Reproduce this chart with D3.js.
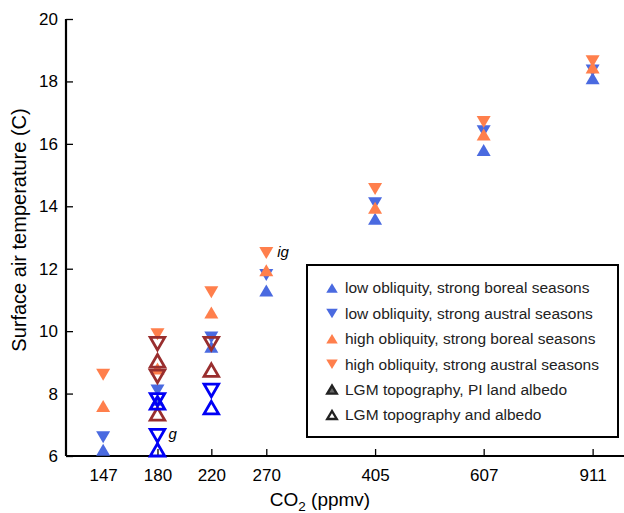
<!DOCTYPE html>
<html><head><meta charset="utf-8">
<script src="https://cdn.jsdelivr.net/npm/d3@7"></script>
<style>body{margin:0;background:#fff}svg{display:block;font-family:"Liberation Sans",Arial,sans-serif}</style>
</head><body><svg id="c" width="624" height="513"></svg>
<script>
const co2 = [147, 180, 220, 270, 405, 607, 911];
const yTicks = [6, 8, 10, 12, 14, 16, 18, 20];
const lowBoreal   = [6.2, 7.8, 9.5, 11.3, 13.6, 15.8, 18.1];
const lowAustral  = [6.6, 8.1, 9.8, 11.8, 14.1, 16.4, 18.35];
const highBoreal  = [7.6, 8.8, 10.6, 11.95, 13.95, 16.3, 18.45];
const highAustral = [8.6, 9.9, 11.25, 12.5, 14.55, 16.7, 18.65];
// LGM topography, PI land albedo (hollow dark red)
const lgmPiCo2   = [180, 180, 180, 180, 220, 220];
const lgmPiVal   = [9.6, 9.05, 8.55, 7.35, 9.6, 8.75];
const lgmPiDir   = ["down", "up", "down", "up", "down", "up"];
// LGM topography and albedo (hollow blue)
const lgmAllCo2  = [180, 180, 180, 180, 220, 220];
const lgmAllVal  = [7.8, 7.7, 6.65, 6.2, 8.1, 7.55];
const lgmAllDir  = ["down", "up", "down", "up", "down", "up"];
const legendLabels = ["low obliquity, strong boreal seasons","low obliquity, strong austral seasons","high obliquity, strong boreal seasons","high obliquity, strong austral seasons","LGM topography, PI land albedo","LGM topography and albedo"];
const annotations = [{c:180, v:6.7, t:"g"}, {c:270, v:12.55, t:"ig"}];

const BLUE="#4a6ae0", ORANGE="#ff7f4c", DRED="#992e2e", BBLUE="#0000f5";
const svg = d3.select("#c");
const x = d3.scaleLog().domain([128, 1024]).range([66, 624]);
const y = d3.scaleLinear().domain([6, 20]).range([456, 19]);

function tri(w, h, dir) {
  const s = dir === "up" ? 1 : -1;
  return `M0,${-s*h/2}L${w/2},${s*h/2}L${-w/2},${s*h/2}Z`;
}

// axes
const gx = svg.append("g").attr("transform","translate(0,456)")
  .call(d3.axisBottom(x).tickValues(co2).tickFormat(d3.format("d")).tickSizeInner(-7).tickSizeOuter(0).tickPadding(13));
const gy = svg.append("g").attr("transform","translate(66,0)")
  .call(d3.axisLeft(y).tickValues(yTicks).tickSizeInner(-7).tickSizeOuter(0).tickPadding(8));
[gx, gy].forEach(g => {
  g.select(".domain").attr("stroke","#000").attr("stroke-width",2.2);
  g.selectAll(".tick line").attr("stroke","#000").attr("stroke-width",1.3);
  g.selectAll(".tick text").attr("font-size",17).attr("fill","#000").attr("font-family","Liberation Sans, Arial, sans-serif");
});
gx.select(".domain").attr("d","M66,0H624");
gy.select(".domain").attr("d","M0,19V456");

svg.append("text").attr("transform","translate(26,230) rotate(-90)").attr("text-anchor","middle")
  .attr("font-size",20).text("Surface air temperature (C)");
const xt = svg.append("text").attr("x",320).attr("y",506).attr("text-anchor","middle").attr("font-size",19);
xt.append("tspan").text("CO");
xt.append("tspan").attr("font-size",13.5).attr("dy",5).text("2");
xt.append("tspan").attr("dy",-5).text(" (ppmv)");

// filled series
const filled = [
  {vals: lowBoreal, dir:"up", color: BLUE},
  {vals: lowAustral, dir:"down", color: BLUE},
  {vals: highBoreal, dir:"up", color: ORANGE},
  {vals: highAustral, dir:"down", color: ORANGE}
];
filled.forEach(s => {
  svg.append("g").selectAll("path").data(s.vals).join("path")
    .attr("transform",(d,i)=>`translate(${x(co2[i])},${y(d)})`)
    .attr("d", tri(14, 12, s.dir)).attr("fill", s.color);
});

function hollow(cs, vs, ds, color) {
  svg.append("g").selectAll("path").data(vs).join("path")
    .attr("transform",(d,i)=>`translate(${x(cs[i])},${y(d)})`)
    .attr("d",(d,i)=>tri(14.5, 12.5, ds[i])).attr("fill","none")
    .attr("stroke", color).attr("stroke-width", 2.8).attr("stroke-linejoin","miter");
}
hollow(lgmPiCo2, lgmPiVal, lgmPiDir, DRED);
hollow(lgmAllCo2, lgmAllVal, lgmAllDir, BBLUE);

svg.append("g").selectAll("text").data(annotations).join("text")
  .attr("x", d => x(d.c) + 11).attr("y", d => y(d.v)).attr("dy","0.35em")
  .attr("font-size",15).attr("font-style","italic").text(d => d.t);

// legend
svg.append("rect").attr("x",307).attr("y",265).attr("width",311).attr("height",172)
  .attr("fill","#fff").attr("stroke","#000").attr("stroke-width",2);
const legSym = [
  {dir:"up", fill:BLUE, stroke:"none", sw:0},
  {dir:"down", fill:BLUE, stroke:"none", sw:0},
  {dir:"up", fill:ORANGE, stroke:"none", sw:0},
  {dir:"down", fill:ORANGE, stroke:"none", sw:0},
  {dir:"up", fill:"#666", stroke:"#222", sw:2.4},
  {dir:"up", fill:"#fff", stroke:"#222", sw:2.4}
];
const lg = svg.append("g").selectAll("g").data(legendLabels).join("g")
  .attr("transform",(d,i)=>`translate(0,${288 + i*25.4})`);
lg.append("path").attr("transform","translate(332,0)")
  .attr("d",(d,i)=> legSym[i].sw ? tri(9.5,8,legSym[i].dir) : tri(11.5,9.5,legSym[i].dir))
  .attr("fill",(d,i)=>legSym[i].fill).attr("stroke",(d,i)=>legSym[i].stroke).attr("stroke-width",(d,i)=>legSym[i].sw);
lg.append("text").attr("x",345).attr("dy","0.35em").attr("font-size",15.5).attr("fill","#222").text(d=>d);
</script></body></html>
